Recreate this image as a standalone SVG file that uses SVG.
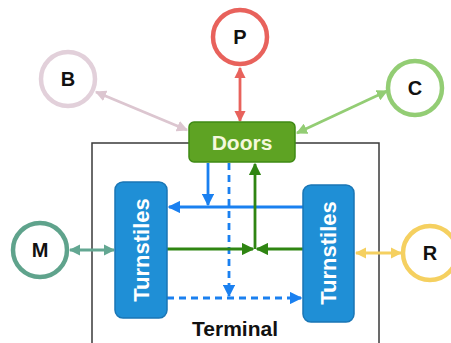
<svg xmlns="http://www.w3.org/2000/svg" width="451" height="343" viewBox="0 0 451 343">
<style>
.circ{fill:#fff;stroke-width:4.5}
.lbl{font-family:"Liberation Sans",Arial,sans-serif;font-weight:bold;font-size:20px;fill:#111;text-anchor:middle;dominant-baseline:central}
.turn{fill:#1f8fd6;stroke:#1a76b5;stroke-width:1.5}
.tt{font-family:"Liberation Sans",Arial,sans-serif;font-weight:bold;font-size:22px;fill:#fff;text-anchor:middle;dominant-baseline:central}
.c{fill:none;stroke-width:2.8}
</style>
<defs>
<marker id="aRed" viewBox="0 0 10 10" refX="9" refY="5" markerWidth="4" markerHeight="4" orient="auto-start-reverse"><path d="M0,0L10,5L0,10z" fill="#e8625c"/></marker>
<marker id="aPink" viewBox="0 0 10 10" refX="9" refY="5" markerWidth="4" markerHeight="4" orient="auto-start-reverse"><path d="M0,0L10,5L0,10z" fill="#dcc6d0"/></marker>
<marker id="aLG" viewBox="0 0 10 10" refX="9" refY="5" markerWidth="4" markerHeight="4" orient="auto-start-reverse"><path d="M0,0L10,5L0,10z" fill="#93cd74"/></marker>
<marker id="aTeal" viewBox="0 0 10 10" refX="9" refY="5" markerWidth="4" markerHeight="4" orient="auto-start-reverse"><path d="M0,0L10,5L0,10z" fill="#63a792"/></marker>
<marker id="aYel" viewBox="0 0 10 10" refX="9" refY="5" markerWidth="4" markerHeight="4" orient="auto-start-reverse"><path d="M0,0L10,5L0,10z" fill="#f5d060"/></marker>
<marker id="aBlue" viewBox="0 0 10 10" refX="9" refY="5" markerWidth="4.5" markerHeight="4.5" orient="auto-start-reverse"><path d="M0,0L10,5L0,10z" fill="#1a80f0"/></marker>
<marker id="aGreen" viewBox="0 0 10 10" refX="9" refY="5" markerWidth="4.5" markerHeight="4.5" orient="auto-start-reverse"><path d="M0,0L10,5L0,10z" fill="#2f8512"/></marker>
</defs>

<g id="terminal">
<rect x="92" y="143" width="287" height="210" fill="#fff" stroke="#3a3a3a" stroke-width="1.5"/>
<text x="235" y="328" class="lbl" style="font-size:21px">Terminal</text>
</g>

<g id="connectors">
<line x1="240" y1="68" x2="240" y2="121" class="c" stroke="#e8625c" marker-start="url(#aRed)" marker-end="url(#aRed)"/>
<line x1="96" y1="92" x2="187" y2="130" class="c" stroke="#dcc6d0" marker-start="url(#aPink)" marker-end="url(#aPink)"/>
<line x1="387" y1="91" x2="297" y2="133" class="c" stroke="#93cd74" marker-start="url(#aLG)" marker-end="url(#aLG)"/>
<line x1="70" y1="250" x2="114" y2="250" class="c" stroke="#63a792" marker-start="url(#aTeal)" marker-end="url(#aTeal)"/>
<line x1="356" y1="253" x2="401" y2="253" class="c" stroke="#f5d060" marker-start="url(#aYel)" marker-end="url(#aYel)"/>
<line x1="208" y1="163" x2="208" y2="205" class="c" stroke="#1a80f0" marker-end="url(#aBlue)"/>
<line x1="303" y1="207" x2="169" y2="207" class="c" stroke="#1a80f0" marker-end="url(#aBlue)"/>
<line x1="229" y1="163" x2="229" y2="296" class="c" stroke="#1a80f0" stroke-dasharray="7,5" marker-end="url(#aBlue)"/>
<line x1="167" y1="298" x2="301" y2="298" class="c" stroke="#1a80f0" stroke-dasharray="7,5" marker-end="url(#aBlue)"/>
<line x1="167" y1="249" x2="253" y2="249" class="c" stroke="#2f8512" marker-end="url(#aGreen)"/>
<line x1="303" y1="249" x2="257" y2="249" class="c" stroke="#2f8512" marker-end="url(#aGreen)"/>
<line x1="255" y1="249" x2="255" y2="164" class="c" stroke="#2f8512" marker-end="url(#aGreen)"/>
</g>

<g id="doors">
<rect x="189" y="122" width="106" height="40" rx="5" fill="#5ea323" stroke="#3f8a14" stroke-width="1.5"/>
<text x="242" y="142" class="tt" style="font-size:21px;fill:#f4f8dc">Doors</text>
</g>

<g id="turnstiles-left">
<rect x="115" y="182" width="52" height="136" rx="8" class="turn"/>
<text transform="translate(141,250) rotate(-90)" class="tt">Turnstiles</text>
</g>
<g id="turnstiles-right">
<rect x="303" y="185" width="51" height="137" rx="8" class="turn"/>
<text transform="translate(328.5,253) rotate(-90)" class="tt">Turnstiles</text>
</g>

<g id="P"><circle cx="240" cy="37" r="27" class="circ" stroke="#e8625c"/><text x="240" y="37" class="lbl">P</text></g>
<g id="B"><circle cx="68" cy="79" r="27" class="circ" stroke="#e2d0da"/><text x="68" y="79" class="lbl">B</text></g>
<g id="C"><circle cx="415" cy="88" r="27" class="circ" stroke="#93cd74"/><text x="415" y="88" class="lbl">C</text></g>
<g id="M"><circle cx="40" cy="250" r="27" class="circ" stroke="#5fa38c"/><text x="40" y="250" class="lbl">M</text></g>
<g id="R"><circle cx="430" cy="253" r="27" class="circ" stroke="#f5d060"/><text x="430" y="253" class="lbl">R</text></g>
</svg>
